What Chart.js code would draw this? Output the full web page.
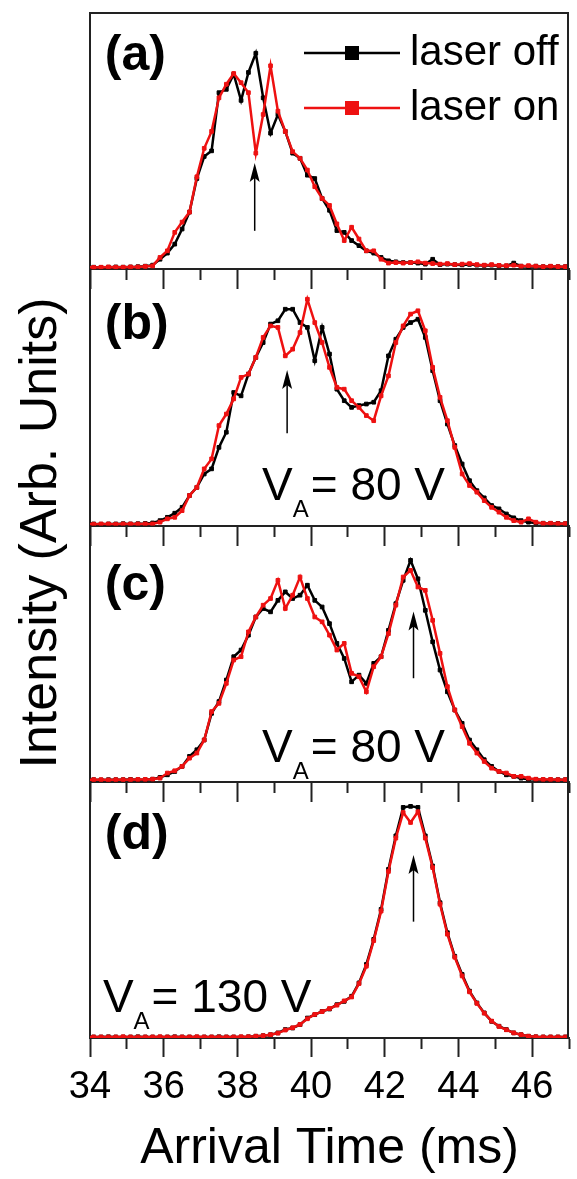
<!DOCTYPE html>
<html>
<head>
<meta charset="utf-8">
<script src="https://cdn.jsdelivr.net/npm/chart.js@4.4.1/dist/chart.umd.min.js"></script>
<style>
  html, body { margin: 0; padding: 0; background: #fff; }
  #wrap { width: 577px; height: 1179px; }
</style>
</head>
<body>
<div id="wrap"><canvas id="tof" width="577" height="1179"></canvas></div>
<script>
const FONT = "'Liberation Sans', Arial, Helvetica, sans-serif";
const RED = '#ee1111';
const BLACK = '#000000';
const AXIS = '#222222';

// arrival time bins (ms)
const arrivalTimes = [33.9, 34.1, 34.3, 34.5, 34.7, 34.9, 35.1, 35.3, 35.5, 35.7,
  35.9, 36.1, 36.3, 36.5, 36.7, 36.9, 37.1, 37.3, 37.5, 37.7,
  37.9, 38.1, 38.3, 38.5, 38.7, 38.9, 39.1, 39.3, 39.5, 39.7,
  39.9, 40.1, 40.3, 40.5, 40.7, 40.9, 41.1, 41.3, 41.5, 41.7,
  41.9, 42.1, 42.3, 42.5, 42.7, 42.9, 43.1, 43.3, 43.5, 43.7,
  43.9, 44.1, 44.3, 44.5, 44.7, 44.9, 45.1, 45.3, 45.5, 45.7,
  45.9, 46.1, 46.3, 46.5, 46.7, 46.9, 47.1];
const xTickLabels = [34, 36, 38, 40, 42, 44, 46];

// (a)
const offA = [0.008, 0.008, 0.007, 0.008, 0.009, 0.008, 0.009, 0.010, 0.012,
  0.016, 0.039, 0.063, 0.098, 0.157, 0.223, 0.354, 0.440, 0.462, 0.689, 0.702,
  0.761, 0.659, 0.768, 0.843, 0.669, 0.531, 0.604, 0.538, 0.453, 0.433,
  0.367, 0.354, 0.276, 0.230, 0.151, 0.144, 0.112, 0.092, 0.072, 0.063,
  0.046, 0.033, 0.029, 0.026, 0.026, 0.024, 0.020, 0.039, 0.018, 0.020,
  0.018, 0.017, 0.019, 0.016, 0.015, 0.016, 0.014, 0.013, 0.024, 0.012,
  0.011, 0.012, 0.010, 0.011, 0.010, 0.010, 0.010];
const onA = [0.008, 0.007, 0.008, 0.009, 0.008, 0.008, 0.009, 0.009, 0.011,
  0.013, 0.046, 0.072, 0.144, 0.184, 0.223, 0.361, 0.472, 0.538, 0.669, 0.722,
  0.764, 0.728, 0.689, 0.453, 0.604, 0.794, 0.617, 0.538, 0.459, 0.433,
  0.387, 0.322, 0.276, 0.249, 0.177, 0.112, 0.164, 0.118, 0.072, 0.072,
  0.039, 0.024, 0.026, 0.024, 0.026, 0.029, 0.024, 0.022, 0.020, 0.022,
  0.018, 0.020, 0.022, 0.018, 0.016, 0.018, 0.015, 0.014, 0.016, 0.012,
  0.014, 0.012, 0.010, 0.012, 0.010, 0.010, 0.010];

// (b)
const offB = [0.006, 0.006, 0.005, 0.006, 0.006, 0.007, 0.006, 0.007, 0.008,
  0.010, 0.019, 0.032, 0.048, 0.071, 0.117, 0.149, 0.201, 0.221, 0.305, 0.364,
  0.519, 0.506, 0.591, 0.656, 0.714, 0.786, 0.799, 0.844, 0.844, 0.792,
  0.773, 0.643, 0.773, 0.669, 0.532, 0.487, 0.461, 0.468, 0.474, 0.481,
  0.526, 0.662, 0.727, 0.773, 0.792, 0.805, 0.734, 0.604, 0.487, 0.396,
  0.312, 0.240, 0.175, 0.136, 0.108, 0.078, 0.065, 0.045, 0.030, 0.019,
  0.013, 0.010, 0.009, 0.008, 0.008, 0.007, 0.007];
const onB = [0.006, 0.005, 0.006, 0.006, 0.005, 0.006, 0.006, 0.006, 0.006,
  0.006, 0.013, 0.026, 0.032, 0.058, 0.117, 0.149, 0.221, 0.260, 0.390, 0.435,
  0.494, 0.578, 0.591, 0.656, 0.734, 0.779, 0.773, 0.662, 0.688, 0.753,
  0.883, 0.792, 0.714, 0.617, 0.539, 0.532, 0.487, 0.461, 0.429, 0.409,
  0.506, 0.584, 0.714, 0.779, 0.825, 0.838, 0.760, 0.617, 0.500, 0.409,
  0.305, 0.201, 0.156, 0.130, 0.097, 0.071, 0.052, 0.032, 0.019, 0.013,
  0.026, 0.013, 0.008, 0.009, 0.007, 0.007, 0.007];

// (c)
const offC = [0.008, 0.008, 0.007, 0.008, 0.008, 0.008, 0.009, 0.008, 0.008,
  0.010, 0.017, 0.027, 0.040, 0.060, 0.099, 0.125, 0.163, 0.267, 0.313, 0.397,
  0.488, 0.514, 0.572, 0.643, 0.676, 0.663, 0.708, 0.741, 0.715, 0.728,
  0.767, 0.708, 0.682, 0.617, 0.540, 0.481, 0.390, 0.416, 0.384, 0.462,
  0.488, 0.591, 0.695, 0.786, 0.864, 0.792, 0.669, 0.546, 0.436, 0.351,
  0.280, 0.228, 0.163, 0.125, 0.086, 0.060, 0.040, 0.027, 0.021, 0.014,
  0.010, 0.009, 0.008, 0.008, 0.008, 0.008, 0.008];
const onC = [0.008, 0.008, 0.008, 0.007, 0.008, 0.008, 0.008, 0.009, 0.009,
  0.010, 0.014, 0.034, 0.043, 0.060, 0.092, 0.112, 0.163, 0.274, 0.306, 0.384,
  0.475, 0.488, 0.585, 0.643, 0.689, 0.715, 0.786, 0.676, 0.728, 0.799,
  0.715, 0.643, 0.624, 0.572, 0.514, 0.540, 0.423, 0.410, 0.351, 0.449,
  0.488, 0.578, 0.689, 0.799, 0.825, 0.760, 0.747, 0.630, 0.501, 0.371,
  0.280, 0.215, 0.150, 0.112, 0.079, 0.053, 0.040, 0.034, 0.021, 0.021,
  0.014, 0.010, 0.009, 0.009, 0.008, 0.008, 0.008];

// (d)
const offD = [0.004, 0.004, 0.004, 0.005, 0.004, 0.004, 0.004, 0.005, 0.004,
  0.004, 0.004, 0.004, 0.005, 0.004, 0.004, 0.004, 0.004, 0.004, 0.005, 0.004,
  0.004, 0.004, 0.005, 0.007, 0.009, 0.013, 0.020, 0.033, 0.039, 0.052,
  0.078, 0.091, 0.104, 0.113, 0.130, 0.143, 0.163, 0.215, 0.287, 0.385,
  0.502, 0.658, 0.789, 0.900, 0.904, 0.900, 0.789, 0.671, 0.528, 0.411,
  0.319, 0.248, 0.183, 0.137, 0.098, 0.065, 0.046, 0.033, 0.020, 0.013,
  0.007, 0.005, 0.004, 0.004, 0.004, 0.004, 0.004];
const onD = [0.004, 0.004, 0.004, 0.004, 0.004, 0.005, 0.004, 0.004, 0.004,
  0.004, 0.005, 0.004, 0.004, 0.004, 0.004, 0.005, 0.004, 0.004, 0.004, 0.004,
  0.004, 0.005, 0.005, 0.007, 0.009, 0.013, 0.019, 0.031, 0.040, 0.053,
  0.075, 0.092, 0.103, 0.115, 0.128, 0.145, 0.160, 0.212, 0.280, 0.380,
  0.495, 0.650, 0.780, 0.880, 0.841, 0.883, 0.780, 0.665, 0.522, 0.405,
  0.315, 0.242, 0.180, 0.135, 0.097, 0.066, 0.045, 0.032, 0.020, 0.013,
  0.007, 0.005, 0.004, 0.004, 0.004, 0.004, 0.004];

const panels = [
  { id: 'A', tag: '(a)', off: offA, on: onA },
  { id: 'B', tag: '(b)', off: offB, on: onB },
  { id: 'C', tag: '(c)', off: offC, on: onC },
  { id: 'D', tag: '(d)', off: offD, on: onD }
];

// notes drawn on each panel, in data units of that panel
const notes = {
  A: { tagY: 0.83, arrow: [38.47, 0.15, 0.415] },
  B: { tagY: 0.78, arrow: [39.35, 0.36, 0.607], va: [38.67, 0.10, '80 V'] },
  C: { tagY: 0.765, arrow: [42.78, 0.404, 0.664], va: [38.67, 0.077, '80 V'] },
  D: { tagY: 0.79, arrow: [42.78, 0.454, 0.714], va: [34.35, 0.10, '130 V'] }
};

const datasets = [];
panels.forEach(p => {
  const line = (label, data, color, order) => ({
    label, data, order,
    xAxisID: 'x' + p.id,
    yAxisID: 'y' + p.id,
    borderColor: color,
    backgroundColor: color,
    borderWidth: 2.5,
    pointStyle: 'rect',
    pointRadius: 2.6,
    pointBorderWidth: 1,
    tension: 0
  });
  datasets.push(line('laser off', p.off, BLACK, 2));
  datasets.push(line('laser on', p.on, RED, 1));
});

const scales = {};
panels.forEach((p, i) => {
  const last = i === panels.length - 1;
  scales['x' + p.id] = {
    type: 'linear',
    min: 34,
    max: 47,
    position: last ? 'bottom' : { ['y' + p.id]: 0 },
    ticks: {
      display: last,
      stepSize: 1,
      autoSkip: false,
      maxRotation: 0,
      padding: 8,
      color: '#000',
      font: { family: FONT, size: 38 },
      callback: v => xTickLabels.includes(v) ? String(v) : ''
    },
    grid: {
      drawOnChartArea: false,
      tickLength: 19,
      tickWidth: 2,
      tickColor: AXIS,
      // odd ticks are the short minor ones
      tickBorderDash: c => (c.tick && c.tick.value % 2 !== 0) ? [10, 40] : []
    },
    border: { display: true, color: AXIS, width: 2 },
    title: {
      display: last,
      text: 'Arrival Time (ms)',
      color: '#000',
      font: { family: FONT, size: 50 },
      padding: 0
    },
    afterFit: last ? s => { s.height = 141; } : undefined
  };
});
// last stacked axis ends up on top
[...panels].reverse().forEach(p => {
  scales['y' + p.id] = {
    type: 'linear',
    position: 'left',
    stack: 'panels',
    stackWeight: 1,
    min: 0,
    max: 1,
    ticks: { display: false },
    grid: { display: false },
    border: { display: true, color: AXIS, width: 2 },
    afterFit: s => { s.width = 90; }
  };
});

function drawArrow(ctx, x, yTail, yHead) {
  ctx.strokeStyle = '#000';
  ctx.fillStyle = '#000';
  ctx.lineWidth = 1.5;
  ctx.beginPath();
  ctx.moveTo(x, yTail);
  ctx.lineTo(x, yHead + 12);
  ctx.stroke();
  ctx.beginPath();
  ctx.moveTo(x, yHead);
  ctx.lineTo(x - 5, yHead + 19);
  ctx.lineTo(x, yHead + 15);
  ctx.lineTo(x + 5, yHead + 19);
  ctx.closePath();
  ctx.fill();
}

function drawVA(ctx, x, y, rest) {
  ctx.fillStyle = '#000';
  ctx.textAlign = 'left';
  ctx.textBaseline = 'alphabetic';
  ctx.font = `46px ${FONT}`;
  ctx.fillText('V', x, y);
  const wv = ctx.measureText('V').width;
  ctx.font = `24px ${FONT}`;
  ctx.fillText('A', x + wv, y + 17);
  const wa = ctx.measureText('A').width;
  ctx.font = `46px ${FONT}`;
  ctx.fillText('= ' + rest, x + wv + wa + 2, y);
}

const panelNotes = {
  id: 'panelNotes',
  afterDraw(chart) {
    const { ctx, chartArea: area, scales: sc } = chart;
    ctx.save();

    // closing frame lines (top and right)
    ctx.strokeStyle = AXIS;
    ctx.lineWidth = 2;
    ctx.beginPath();
    ctx.moveTo(area.left, area.top);
    ctx.lineTo(area.right - 1, area.top);
    ctx.lineTo(area.right - 1, area.bottom);
    ctx.stroke();

    panels.forEach(p => {
      const xs = sc['x' + p.id];
      const ys = sc['y' + p.id];
      const n = notes[p.id];
      ctx.fillStyle = '#000';
      ctx.font = `bold 50px ${FONT}`;
      ctx.textAlign = 'left';
      ctx.textBaseline = 'middle';
      ctx.fillText(p.tag, xs.getPixelForValue(34.4), ys.getPixelForValue(n.tagY));
      const [ax, a0, a1] = n.arrow;
      drawArrow(ctx, xs.getPixelForValue(ax), ys.getPixelForValue(a0), ys.getPixelForValue(a1));
      if (n.va) {
        drawVA(ctx, xs.getPixelForValue(n.va[0]), ys.getPixelForValue(n.va[1]), n.va[2]);
      }
    });

    // legend, top right of panel (a)
    const rows = [chart.data.datasets[0], chart.data.datasets[1]];
    rows.forEach((ds, i) => {
      const y = area.top + 40 + i * 55;
      const x0 = area.right - 265;
      const x1 = area.right - 169;
      ctx.strokeStyle = ds.borderColor;
      ctx.lineWidth = 2.5;
      ctx.beginPath();
      ctx.moveTo(x0, y);
      ctx.lineTo(x1, y);
      ctx.stroke();
      ctx.fillStyle = ds.borderColor;
      ctx.fillRect((x0 + x1) / 2 - 7, y - 7, 14, 14);
      ctx.fillStyle = '#000';
      ctx.font = `42px ${FONT}`;
      ctx.textAlign = 'left';
      ctx.textBaseline = 'middle';
      ctx.fillText(ds.label, area.right - 159, y);
    });

    // shared y title
    ctx.translate(42, 533);
    ctx.rotate(-Math.PI / 2);
    ctx.fillStyle = '#000';
    ctx.font = `52px ${FONT}`;
    ctx.textAlign = 'center';
    ctx.textBaseline = 'middle';
    ctx.fillText('Intensity (Arb. Units)', 0, 0);
    ctx.restore();
  }
};

new Chart(document.getElementById('tof'), {
  type: 'line',
  data: { labels: arrivalTimes, datasets },
  options: {
    responsive: false,
    devicePixelRatio: 1,
    animation: false,
    layout: { padding: { top: 13, left: 0, right: 0, bottom: 0 } },
    scales,
    plugins: {
      legend: { display: false },
      tooltip: { enabled: false }
    }
  },
  plugins: [panelNotes]
});
</script>
</body>
</html>
